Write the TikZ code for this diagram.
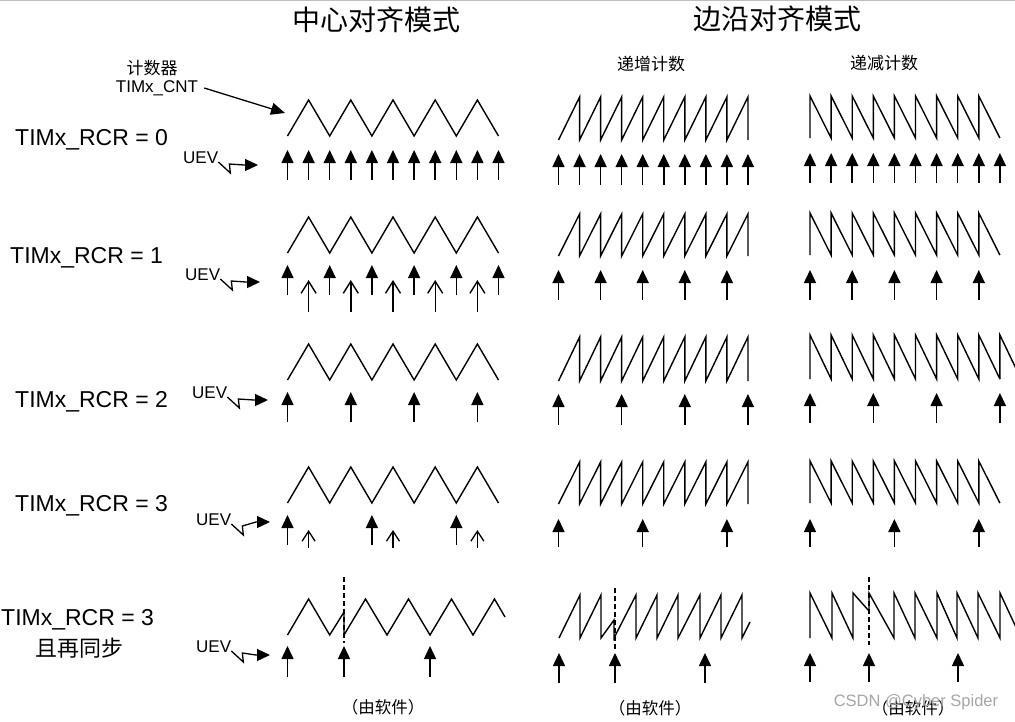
\documentclass[tikz,border=0pt]{standalone}
\usepackage{fontspec}
\setmainfont{Liberation Sans}
\newfontfamily\cjk{Noto Sans CJK SC}
\usetikzlibrary{arrows.meta}
\newcommand\cwave[4]{\draw[wave] (#1,#4) \foreach \i in {0,...,4}{ -- ({#1+(2*\i+1)*#2},#3) -- ({#1+(2*\i+2)*#2},#4)};}
\newcommand\upsaw[4]{\draw[wave] (#1,#4) \foreach \i in {1,...,9}{ -- ({#1+\i*#2},#3) -- ({#1+\i*#2},#4)};}
\newcommand\dnsaw[4]{\draw[wave] (#1,#4) -- (#1,#3) \foreach \i in {1,...,8}{ -- ({#1+\i*#2},#4) -- ({#1+\i*#2},#3)} -- ({#1+9*#2},#4);}
\newcommand\evts[3]{\foreach \xx in {#1}{\draw[evt] (\xx,#3) -- (\xx,#2);}}
\newcommand\oevts[4]{\foreach \xx in {#1}{\draw[#4] (\xx,#3) -- (\xx,#2);}}
\begin{document}
\begin{tikzpicture}[x=1pt,y=-1pt,
  wave/.style={line width=1.4pt, line join=miter},
  evt/.style={line width=1.5pt, -{Triangle[length=13pt,width=12pt]}},
  oevtA/.style={line width=1.4pt, -{Straight Barb[length=12pt,width=15pt]}},
  oevtB/.style={line width=1.3pt, -{Straight Barb[length=10pt,width=13pt]}},
  bolt/.style={line width=1.3pt, -{Triangle[length=13pt,width=12pt]}},
  rcr/.style={anchor=west, inner sep=0pt, font=\fontsize{23}{25}\selectfont},
  uev/.style={anchor=west, inner sep=0pt, font=\fontsize{17}{19}\selectfont},
  title/.style={inner sep=0pt, font=\cjk\fontsize{28}{30}\selectfont},
  sub/.style={inner sep=0pt, font=\cjk\fontsize{17}{19}\selectfont},
  note/.style={inner sep=0pt, font=\cjk\fontsize{16.5}{18}\selectfont},
  sync/.style={dashed, line width=1.2pt, dash pattern=on 5pt off 3pt}
]
\useasboundingbox (0,0) rectangle (1015,721);
\fill[white] (0,0) rectangle (1015,721);
\draw[black!25, line width=1pt] (0,0.5) -- (1015,0.5);

% titles
\node[title] (t1) at (376,20) {中心对齐模式};
\node[title] (t2) at (777,19) {边沿对齐模式};
\node[sub] (s1) at (651,64) {递增计数};
\node[sub] (s2) at (884,63) {递减计数};
\node[sub] (cntz) at (152,68) {计数器};
\node[uev, anchor=center] (cnt) at (157,88) {TIMx\_CNT};
\coordinate (cntend) at (285,113);
\draw[line width=1.3pt, -{Triangle[length=14pt,width=12pt]}] (cnt.east) ++(6,0) -- (cntend);

% row labels
\node[rcr] (r1) at (15,140) {TIMx\_RCR = 0};
\node[rcr] (r2) at (10,258) {TIMx\_RCR = 1};
\node[rcr] (r3) at (15,402) {TIMx\_RCR = 2};
\node[rcr] (r4) at (15,506) {TIMx\_RCR = 3};
\node[rcr] (r5) at (1,620) {TIMx\_RCR = 3};
\node[inner sep=0pt, font=\cjk\fontsize{22}{24}\selectfont] (r5b) at (79,648) {且再同步};

% UEV labels and bolts
\node[uev] (u1) at (183,158) {UEV};
\node[uev] (u2) at (185,275) {UEV};
\node[uev] (u3) at (192,393) {UEV};
\node[uev] (u4) at (196,520) {UEV};
\node[uev] (u5) at (196,647) {UEV};
\coordinate (b1) at (258,165);
\coordinate (b2) at (260,282);
\coordinate (b3) at (268,400);
\coordinate (b4) at (270,522);
\coordinate (b5) at (270,655);
\foreach \k in {1,...,5}{
  \draw[bolt] ([yshift=-4pt]u\k.east) -- ++(12,11) -- ++(-1,-9) -- ([xshift=-14pt]b\k) -- (b\k);
}

% ===== Row 1 =====
\cwave{287.5}{21.1}{100}{136}
\evts{287.5,308.6,329.7,350.8,371.9,393.0,414.1,435.2,456.3,477.4,498.5}{150}{180}
\upsaw{558.5}{21.05}{97}{140}
\evts{558.5,579.55,600.6,621.65,642.7,663.75,684.8,705.85,726.9,747.95}{154}{185}
\dnsaw{810}{21.1}{96}{138}
\evts{810,831.1,852.2,873.3,894.4,915.5,936.6,957.7,978.8,999.9}{153}{183}

% ===== Row 2 =====
\cwave{287.5}{21.1}{217}{253}
\evts{287.5,329.7,371.9,414.1,456.3,498.5}{265}{295}
\oevts{308.6,350.8,393.0,435.2,477.4}{280}{312}{oevtA}
\upsaw{558.5}{21.05}{214}{256}
\evts{558.5,600.6,642.7,684.8,726.9}{270}{300}
\dnsaw{810}{21.1}{213}{255}
\evts{810,852.2,894.4,936.6,978.8}{270}{300}

% ===== Row 3 =====
\cwave{287.5}{21.1}{344}{380}
\evts{287.5,350.8,414.1,477.4}{392}{422}
\upsaw{558.5}{21.05}{337}{381}
\evts{558.5,621.65,684.8,747.95}{394}{425}
\dnsaw{810}{21.1}{335}{379}
\draw[wave] (999.9,379) -- (999.9,335) -- (1021,379);
\evts{810,873.3,936.6,999.9}{393}{423}

% ===== Row 4 =====
\cwave{287.5}{21.1}{467}{503}
\evts{287.5,371.9,456.3}{515}{545}
\oevts{308.6,393.0,477.4}{530}{548}{oevtB}
\upsaw{558.5}{21.05}{462}{504}
\evts{558.5,642.7,726.9}{519}{547}
\dnsaw{810}{21.1}{461}{503}
\evts{810,894.4,978.8}{519}{547}

% ===== Row 5 =====
\draw[wave] (287.5,635) -- (308.6,599) -- (329.7,635) -- (344,612) -- (344,635)
  -- (365.5,599) -- (387,635) -- (408.5,599) -- (430,635) -- (451.5,599) -- (473,635)
  -- (494.5,599) -- (505,617);
\draw[sync] (344,577) -- (344,643);
\evts{287.5,344,430}{646}{677}

\draw[wave] (559,638) -- (580,595) -- (580,638) -- (601,595) -- (601,638) -- (614,620) -- (614,638)
  -- (636,595) -- (636,638) -- (657,595) -- (657,638) -- (678,595) -- (678,638)
  -- (700,595) -- (700,638) -- (721,595) -- (721,638) -- (742,595) -- (742,638) -- (750,622);
\draw[sync] (615,588) -- (615,650);
\evts{559,615,705}{653}{683}

\draw[wave] (810,638) -- (810,593) -- (832,638) -- (832,593) -- (853,638) -- (853,593) -- (869,611)
  -- (869,593) -- (894,638) -- (894,593) -- (915,638) -- (915,593) -- (937,638) -- (937,593)
  -- (957,638) -- (957,593) -- (978,638) -- (978,593) -- (1000,638) -- (1000,593) -- (1021,638);
\draw[sync] (869,577) -- (869,645);
\evts{810,869,958}{653}{682}

% bottom notes
\node[note] (n1) at (383,707) {（由软件）};
\node[note] (n2) at (650,708) {（由软件）};
\node[note] (n3) at (913,708) {（由软件）};
\node[inner sep=0pt, text=black!35, font=\fontsize{16.5}{18}\selectfont] (wm) at (916,702) {CSDN @Cyber Spider};
\end{tikzpicture}
\end{document}
